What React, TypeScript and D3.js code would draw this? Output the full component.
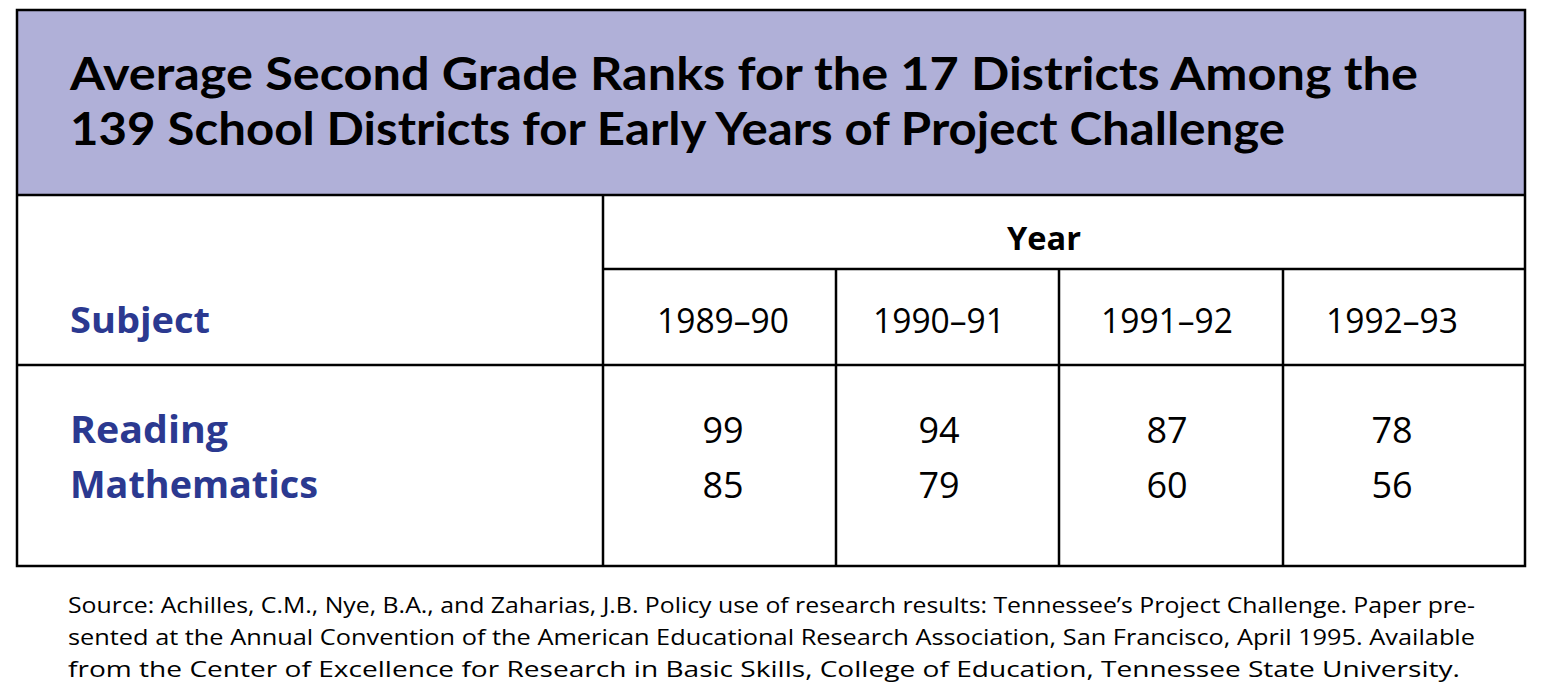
import React from "react";
import * as d3 from "d3";

const titleLines = [
  "Average Second Grade Ranks for the 17 Districts Among the",
  "139 School Districts for Early Years of Project Challenge",
];
const years = ["1989–90", "1990–91", "1991–92", "1992–93"];
const subjects = ["Reading", "Mathematics"];
const readingRanks = [99, 94, 87, 78];
const mathRanks = [85, 79, 60, 56];
const sourceLines = [
  "Source: Achilles, C.M., Nye, B.A., and Zaharias, J.B. Policy use of research results: Tennessee’s Project Challenge. Paper pre-",
  "sented at the Annual Convention of the American Educational Research Association, San Francisco, April 1995. Available",
  "from the Center of Excellence for Research in Basic Skills, College of Education, Tennessee State University.",
];

const W = 1550;
const H = 696;
const FONT = "'Open Sans', 'DejaVu Sans', sans-serif";
const TITLE_FONT = "Lato, 'Open Sans', sans-serif";
const BLUE = "#2b3990";
const BAND = "#b0b0d8";

export default function App() {
  const left = 17, right = 1525, top = 10, bottom = 566;
  const titleBottom = 195, yearLine = 269, headerBottom = 365;
  const colEdges = [603, 836, 1059, 1283, 1525];
  const textCenters = [723, 939, 1167, 1392];

  const colScale = d3.scaleOrdinal<string, number>().domain(years).range(textCenters);
  const rowScale = d3.scalePoint<string>().domain(subjects).range([443, 498]);
  const rows = [readingRanks, mathRanks];
  const srcY = d3.scalePoint<number>().domain([0, 1, 2]).range([613, 677]);

  return (
    <svg width={W} height={H} style={{ position: "absolute", left: 0, top: 0, background: "#fff" }}>
      <rect x={0} y={0} width={W} height={H} fill="#fff" />
      <rect x={left} y={top} width={right - left} height={titleBottom - top} fill={BAND} />
      {titleLines.map((t, i) => (
        <text
          key={i}
          x={70}
          y={i === 0 ? 90 : 145}
          fontFamily={TITLE_FONT}
          fontWeight={700}
          fontSize={45}
          fill="#000"
          textLength={i === 0 ? 1348 : 1215}
          lengthAdjust="spacingAndGlyphs"
        >
          {t}
        </text>
      ))}
      {/* grid lines */}
      <g stroke="#000" strokeWidth={2.5} fill="none">
        <rect x={left} y={top} width={right - left} height={bottom - top} />
        <line x1={left} x2={right} y1={titleBottom} y2={titleBottom} />
        <line x1={left} x2={right} y1={headerBottom} y2={headerBottom} />
        <line x1={colEdges[0]} x2={right} y1={yearLine} y2={yearLine} />
        <line x1={colEdges[0]} x2={colEdges[0]} y1={titleBottom} y2={bottom} />
        {colEdges.slice(1, -1).map((x, i) => (
          <line key={i} x1={x} x2={x} y1={yearLine} y2={bottom} />
        ))}
      </g>
      <text x={1044} y={250} textAnchor="middle" fontFamily={FONT} fontWeight={700} fontSize={32} textLength={74} lengthAdjust="spacingAndGlyphs">
        Year
      </text>
      <text x={70} y={333} fontFamily={FONT} fontWeight={700} fontSize={36} fill={BLUE} textLength={140} lengthAdjust="spacingAndGlyphs">
        Subject
      </text>
      {years.map((y) => (
        <text key={y} x={colScale(y)} y={333} textAnchor="middle" fontFamily={FONT} fontSize={34} fill="#000" textLength={132} lengthAdjust="spacingAndGlyphs">
          {y}
        </text>
      ))}
      {subjects.map((s, i) => (
        <g key={s}>
          <text x={70} y={rowScale(s)} fontFamily={FONT} fontWeight={700} fontSize={38} fill={BLUE} textLength={i === 0 ? 158 : 248} lengthAdjust="spacingAndGlyphs">
            {s}
          </text>
          {rows[i].map((v, j) => (
            <text key={j} x={colScale(years[j])} y={rowScale(s)} textAnchor="middle" fontFamily={FONT} fontSize={36} fill="#000">
              {v}
            </text>
          ))}
        </g>
      ))}
      {sourceLines.map((t, i) => (
        <text key={i} x={68} y={srcY(i)} fontFamily={FONT} fontSize={22} fill="#000" textLength={i === 2 ? 1392 : 1407} lengthAdjust="spacingAndGlyphs">
          {t}
        </text>
      ))}
    </svg>
  );
}
